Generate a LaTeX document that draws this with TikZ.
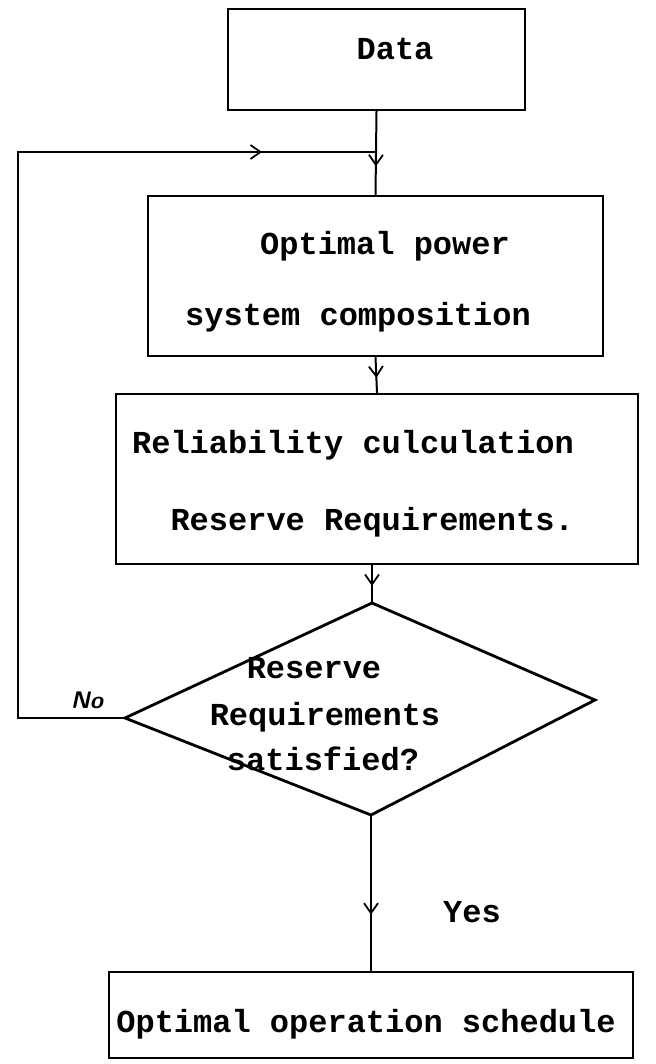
\documentclass[tikz,border=0pt]{standalone}
\usepackage{fontspec}
\setmonofont{Liberation Mono}
\usetikzlibrary{arrows.meta,decorations.markings}
\begin{document}
\begin{tikzpicture}[x=1pt,y=-1pt,
  box/.style={draw,line width=2.4pt,inner sep=0pt},
  txt/.style={font=\ttfamily\bfseries\fontsize{32}{38}\selectfont,inner sep=0pt,anchor=base},
  conn/.style={line width=2pt},
  diam/.style={line width=2.8pt,line join=miter},
  midarr/.style={decoration={markings,
     mark=at position #1 with {\arrow{Straight Barb[length=10pt,width=14pt,line width=1.8pt]}}},
     postaction={decorate}}
]
\useasboundingbox (0,0) rectangle (655,1064);

% boxes
\node[box,minimum width=297pt,minimum height=101pt] (data) at (376.5,59.5) {};
\node[box,minimum width=455pt,minimum height=160pt] (opt) at (375.5,276) {};
\node[box,minimum width=522pt,minimum height=170pt] (rel) at (377,479) {};
\node[box,minimum width=524pt,minimum height=86pt] (fin) at (371,1015) {};

% texts
\node[txt] (datat) at (395,60) {Data};
\node[txt] (opt1) at (385,255) {Optimal power};
\node[txt] (opt2) at (358,325) {system composition};
\node[txt,anchor=base east] (rel1) at (574,453) {Reliability culculation};
\node[txt,anchor=base east] (rel2) at (574,530) {Reserve Requirements.};
\node[txt] (d1) at (314,678) {Reserve};
\node[txt] (d2) at (325,725) {Requirements};
\node[txt] (d3) at (323,770) {satisfied?};
\node[txt] (yes) at (472,922) {Yes};
\node[txt] (fint) at (366,1032) {Optimal operation schedule};
\node[font=\sffamily\itshape\bfseries\fontsize{24}{24}\selectfont,inner sep=0pt] (no) at (87,700) {No};

% decision diamond
\coordinate (dtop) at (372,603);
\coordinate (dright) at (595,700);
\coordinate (dbot) at (371,815);
\coordinate (dleft) at (125,718);
\draw[diam] (dtop) -- (dright) -- (dbot) -- (dleft) -- cycle;

% loop coordinates
\coordinate (lbot) at (18,718);
\coordinate (ltop) at (18,152);
\coordinate (join) at (data.south |- ltop);

% connectors
\draw[conn,midarr=0.66] (data.south) -- (opt.north);
\draw[conn,midarr=0.58] (opt.south) -- (rel.north);
\draw[conn,midarr=0.55] (rel.south -| dtop) -- (dtop);
\draw[conn,midarr=0.64] (dbot) -- (fin.north -| dbot);
\draw[conn,midarr=0.889] (dleft) -- (lbot) -- (ltop) -- (join);
\end{tikzpicture}
\end{document}
